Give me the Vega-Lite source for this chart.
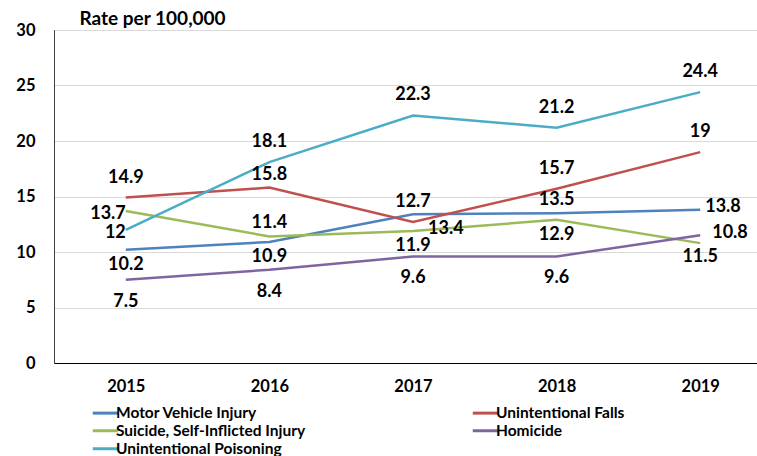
{
  "$schema": "https://vega.github.io/schema/vega-lite/v6.json",
  "width": 718,
  "height": 333,
  "autosize": {"type": "none"},
  "padding": {"left": 54, "top": 30, "right": 0, "bottom": 93},
  "background": "white",
  "config": {
    "view": {"stroke": "#000000", "strokeWidth": 1},
    "font": "Lato",
    "legend": {
      "orient": "none",
      "legendX": 43.5,
      "legendY": 375,
      "direction": "horizontal",
      "columns": 2,
      "columnPadding": 161,
      "rowPadding": 1,
      "symbolType": "M-2.5,0H2.5",
      "symbolStrokeWidth": 3,
      "symbolSize": 100,
      "labelOffset": 3,
      "labelFont": "Lato",
      "labelFontSize": 15.5,
      "labelFontWeight": "bold",
      "labelColor": "#000000",
      "labelLimit": 300,
      "title": null
    }
  },
  "data": {
    "values": [
      {"year": "2015", "series": "Motor Vehicle Injury", "rate": 10.2},
      {"year": "2016", "series": "Motor Vehicle Injury", "rate": 10.9},
      {"year": "2017", "series": "Motor Vehicle Injury", "rate": 13.4},
      {"year": "2018", "series": "Motor Vehicle Injury", "rate": 13.5},
      {"year": "2019", "series": "Motor Vehicle Injury", "rate": 13.8},
      {"year": "2015", "series": "Unintentional Falls", "rate": 14.9},
      {"year": "2016", "series": "Unintentional Falls", "rate": 15.8},
      {"year": "2017", "series": "Unintentional Falls", "rate": 12.7},
      {"year": "2018", "series": "Unintentional Falls", "rate": 15.7},
      {"year": "2019", "series": "Unintentional Falls", "rate": 19},
      {"year": "2015", "series": "Suicide, Self-Inflicted Injury", "rate": 13.7},
      {"year": "2016", "series": "Suicide, Self-Inflicted Injury", "rate": 11.4},
      {"year": "2017", "series": "Suicide, Self-Inflicted Injury", "rate": 11.9},
      {"year": "2018", "series": "Suicide, Self-Inflicted Injury", "rate": 12.9},
      {"year": "2019", "series": "Suicide, Self-Inflicted Injury", "rate": 10.8},
      {"year": "2015", "series": "Homicide", "rate": 7.5},
      {"year": "2016", "series": "Homicide", "rate": 8.4},
      {"year": "2017", "series": "Homicide", "rate": 9.6},
      {"year": "2018", "series": "Homicide", "rate": 9.6},
      {"year": "2019", "series": "Homicide", "rate": 11.5},
      {"year": "2015", "series": "Unintentional Poisoning", "rate": 12},
      {"year": "2016", "series": "Unintentional Poisoning", "rate": 18.1},
      {"year": "2017", "series": "Unintentional Poisoning", "rate": 22.3},
      {"year": "2018", "series": "Unintentional Poisoning", "rate": 21.2},
      {"year": "2019", "series": "Unintentional Poisoning", "rate": 24.4}
    ]
  },
  "encoding": {
    "x": {
      "field": "year",
      "type": "ordinal",
      "scale": {"padding": 0.5},
      "axis": {
        "title": null,
        "labelAngle": 0,
        "ticks": false,
        "grid": false,
        "domainColor": "#000000",
        "labelFont": "Lato",
        "labelFontSize": 16.5,
        "labelFontWeight": "bold",
        "labelColor": "#000000",
        "labelPadding": 15
      }
    },
    "y": {
      "field": "rate",
      "type": "quantitative",
      "scale": {"domain": [0, 30], "nice": false},
      "axis": {
        "values": [0, 5, 10, 15, 20, 25, 30],
        "ticks": false,
        "grid": true,
        "gridColor": "#D9D9D9",
        "gridWidth": 1,
        "domainColor": "#404040",
        "labelFont": "Lato",
        "labelFontSize": 16.5,
        "labelFontWeight": "bold",
        "labelColor": "#000000",
        "labelPadding": 19,
        "title": "Rate per 100,000",
        "titleAngle": 0,
        "titleAlign": "left",
        "titleBaseline": "middle",
        "titleX": 25,
        "titleY": -12,
        "titleFont": "Lato",
        "titleFontSize": 19,
        "titleFontWeight": "bold",
        "titleColor": "#000000"
      }
    }
  },
  "layer": [
    {
      "mark": {"type": "line", "strokeWidth": 2.5},
      "encoding": {
        "color": {
          "field": "series",
          "type": "nominal",
          "sort": ["Motor Vehicle Injury", "Unintentional Falls", "Suicide, Self-Inflicted Injury", "Homicide", "Unintentional Poisoning"],
          "scale": {
            "domain": ["Motor Vehicle Injury", "Unintentional Falls", "Suicide, Self-Inflicted Injury", "Homicide", "Unintentional Poisoning"],
            "range": ["#4F81BD", "#C0504D", "#9BBB59", "#8064A2", "#4BACC6"]
          }
        }
      }
    },
    {
      "transform": [{"filter": "(datum.series === 'Unintentional Falls' && datum.year !== '2016') || (datum.series === 'Unintentional Poisoning' && datum.year !== '2015')"}],
      "mark": {"type": "text", "dy": -20, "fontSize": 18, "fontWeight": "bold", "color": "#000000", "baseline": "middle"},
      "encoding": {"text": {"field": "rate", "type": "quantitative"}}
    },
    {
      "transform": [{"filter": "(datum.series === 'Unintentional Falls' && datum.year === '2016') || (datum.series === 'Motor Vehicle Injury' && datum.year === '2018') || (datum.series === 'Suicide, Self-Inflicted Injury' && datum.year === '2016')"}],
      "mark": {"type": "text", "dy": -13, "fontSize": 18, "fontWeight": "bold", "color": "#000000", "baseline": "middle"},
      "encoding": {"text": {"field": "rate", "type": "quantitative"}}
    },
    {
      "transform": [{"filter": "(datum.series === 'Motor Vehicle Injury' && (datum.year === '2015' || datum.year === '2016')) || (datum.series === 'Suicide, Self-Inflicted Injury' && (datum.year === '2017' || datum.year === '2018'))"}],
      "mark": {"type": "text", "dy": 15, "fontSize": 18, "fontWeight": "bold", "color": "#000000", "baseline": "middle"},
      "encoding": {"text": {"field": "rate", "type": "quantitative"}}
    },
    {
      "transform": [{"filter": "datum.series === 'Homicide'"}],
      "mark": {"type": "text", "dy": 22, "fontSize": 18, "fontWeight": "bold", "color": "#000000", "baseline": "middle"},
      "encoding": {"text": {"field": "rate", "type": "quantitative"}}
    },
    {
      "transform": [{"filter": "datum.year === '2015' && (datum.series === 'Suicide, Self-Inflicted Injury' || datum.series === 'Unintentional Poisoning')"}],
      "mark": {"type": "text", "dy": 3, "dx": 0, "align": "right", "fontSize": 18, "fontWeight": "bold", "color": "#000000", "baseline": "middle"},
      "encoding": {"text": {"field": "rate", "type": "quantitative"}}
    },
    {
      "transform": [{"filter": "datum.year === '2019' && datum.series === 'Motor Vehicle Injury'"}],
      "mark": {"type": "text", "dy": -3, "dx": 5, "align": "left", "fontSize": 18, "fontWeight": "bold", "color": "#000000", "baseline": "middle"},
      "encoding": {"text": {"field": "rate", "type": "quantitative"}}
    },
    {
      "transform": [{"filter": "datum.year === '2017' && datum.series === 'Motor Vehicle Injury'"}],
      "mark": {"type": "text", "dy": 15, "dx": 15, "align": "left", "fontSize": 18, "fontWeight": "bold", "color": "#000000", "baseline": "middle"},
      "encoding": {"text": {"field": "rate", "type": "quantitative"}}
    },
    {
      "transform": [{"filter": "datum.year === '2019' && datum.series === 'Suicide, Self-Inflicted Injury'"}],
      "mark": {"type": "text", "dy": -10, "dx": 12, "align": "left", "fontSize": 18, "fontWeight": "bold", "color": "#000000", "baseline": "middle"},
      "encoding": {"text": {"field": "rate", "type": "quantitative"}}
    }
  ]
}
